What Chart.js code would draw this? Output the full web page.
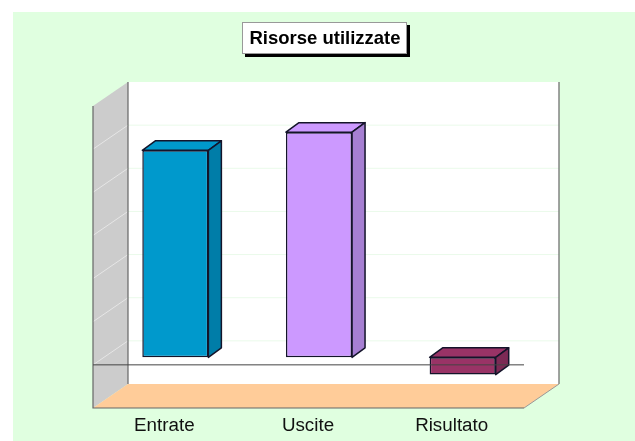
<!DOCTYPE html>
<html>
<head>
<meta charset="utf-8">
<style>html,body{margin:0;padding:0;background:#fff}canvas{display:block}</style>
<script src="https://cdn.jsdelivr.net/npm/chart.js@4"></script>
</head>
<body>
<canvas id="c" width="635" height="441" style="width:635px;height:441px"></canvas>
<script>
const categories = ["Entrate", "Uscite", "Risultato"];
const values = [4800, 5220, -400];
const frontColors = ["#0099CC", "#CC99FF", "#993366"];
const sideColors = ["#007DA8", "#A67FD2", "#7D2A55"];
const titleText = "Risorse utilizzate";
const gridStep = 1000;
const axisMin = -1000;
const axisMax = 6000;

const depth = {back: {dx: 24.5, dy: -16.5}, front: {dx: -10.5, dy: 7.5}, barDx: 13, barDy: -9.5};
const edge = "#14142a";

const scene = {
  id: "scene",
  afterLayout(chart) {
    chart.titleBlock.left += 6;
    chart.titleBlock.right += 6;
  },
  beforeDraw(chart) {
    const c = chart.ctx;
    c.save();
    c.fillStyle = "#fff";
    c.fillRect(0, 0, chart.width, chart.height);
    c.fillStyle = "#E0FFE0";
    c.fillRect(13, 12, chart.width - 13, chart.height - 12);
    c.fillStyle = "#000";
    c.fillRect(245, 25, 165, 32);
    c.fillStyle = "#fff";
    c.fillRect(242, 22, 165, 32);
    c.strokeStyle = "#999";
    c.lineWidth = 1;
    c.strokeRect(242.5, 22.5, 164, 31);
    c.restore();
  },
  beforeDatasetsDraw(chart) {
    const c = chart.ctx, a = chart.chartArea, y = chart.scales.y;
    const bL = a.left + depth.back.dx, bR = a.right + depth.back.dx;
    const fL = a.left + depth.front.dx, fR = a.right + depth.front.dx;
    const bT = a.top + depth.back.dy, bB = a.bottom + depth.back.dy;
    const fT = a.top + depth.front.dy, fB = a.bottom + depth.front.dy;
    c.save();
    c.fillStyle = "#fff";
    c.fillRect(bL, bT, bR - bL, bB - bT);
    c.fillStyle = "#CCCCCC";
    c.beginPath(); c.moveTo(fL, fT); c.lineTo(bL, bT); c.lineTo(bL, bB); c.lineTo(fL, fB); c.closePath(); c.fill();
    c.fillStyle = "#FFCC99";
    c.beginPath(); c.moveTo(fL, fB); c.lineTo(bL, bB); c.lineTo(bR, bB); c.lineTo(fR, fB); c.closePath(); c.fill();
    c.lineWidth = 1;
    y.ticks.forEach(t => {
      if (t.value === axisMin || t.value === axisMax) return;
      const p = y.getPixelForValue(t.value);
      c.strokeStyle = "#EAFAEA";
      c.beginPath(); c.moveTo(bL, p + depth.back.dy); c.lineTo(bR, p + depth.back.dy); c.stroke();
      c.strokeStyle = "#E6E6E6";
      c.beginPath(); c.moveTo(fL, p + depth.front.dy); c.lineTo(bL, p + depth.back.dy); c.stroke();
    });
    c.lineWidth = 1.2;
    c.strokeStyle = "#666";
    c.beginPath();
    c.moveTo(fL, fT); c.lineTo(fL, fB); c.lineTo(fR, fB);
    c.moveTo(bL, bT); c.lineTo(bL, bB);
    c.moveTo(bR, bT); c.lineTo(bR, bB);
    c.stroke();
    c.lineWidth = 1;
    c.strokeStyle = "#999";
    c.beginPath(); c.moveTo(fR, fB); c.lineTo(bR, bB); c.stroke();
    c.restore();
  },
  afterDatasetsDraw(chart) {
    const c = chart.ctx, a = chart.chartArea, y = chart.scales.y;
    const meta = chart.getDatasetMeta(0);
    c.save();
    c.lineWidth = 1.5;
    c.lineJoin = "round";
    c.strokeStyle = edge;
    meta.data.forEach((el, i) => {
      const p = el.getProps(["x", "y", "base", "width"], true);
      const L = p.x - p.width / 2, R = p.x + p.width / 2;
      const T = Math.min(p.y, p.base), B = Math.max(p.y, p.base);
      c.fillStyle = frontColors[i];
      c.beginPath(); c.moveTo(L, T); c.lineTo(L + depth.barDx, T + depth.barDy); c.lineTo(R + depth.barDx, T + depth.barDy); c.lineTo(R, T); c.closePath(); c.fill(); c.stroke();
      c.fillStyle = sideColors[i];
      c.beginPath(); c.moveTo(R, T); c.lineTo(R + depth.barDx, T + depth.barDy); c.lineTo(R + depth.barDx, B + depth.barDy); c.lineTo(R, B); c.closePath(); c.fill(); c.stroke();
    });
    const z = y.getPixelForValue(0) + depth.front.dy;
    c.lineWidth = 1;
    c.strokeStyle = "#444";
    c.beginPath(); c.moveTo(a.left + depth.front.dx, z); c.lineTo(a.right + depth.front.dx, z); c.stroke();
    c.restore();
  }
};

new Chart(document.getElementById("c"), {
  type: "bar",
  data: {
    labels: categories,
    datasets: [{
      data: values,
      backgroundColor: frontColors,
      borderColor: edge,
      borderWidth: 1.5,
      borderSkipped: false,
      categoryPercentage: 0.46,
      barPercentage: 1
    }]
  },
  options: {
    responsive: false,
    animation: false,
    layout: {padding: {left: 103.5, right: 100.5, top: 0, bottom: 0}},
    plugins: {
      legend: {display: false},
      tooltip: {enabled: false},
      title: {
        display: true,
        text: titleText,
        color: "#000",
        font: {family: "'Liberation Sans', Arial, sans-serif", size: 18.5, weight: "bold"},
        padding: {top: 28, bottom: 48.3},
        align: "center"
      }
    },
    scales: {
      x: {
        grid: {display: false},
        border: {display: false},
        ticks: {
          color: "#111",
          font: {family: "'Liberation Sans', Arial, sans-serif", size: 18.8},
          labelOffset: -11,
          padding: 6,
          maxRotation: 0
        },
        afterFit(s) { s.height = 40.5; }
      },
      y: {
        display: false,
        min: axisMin,
        max: axisMax,
        ticks: {stepSize: gridStep}
      }
    }
  },
  plugins: [scene]
});
</script>
</body>
</html>
